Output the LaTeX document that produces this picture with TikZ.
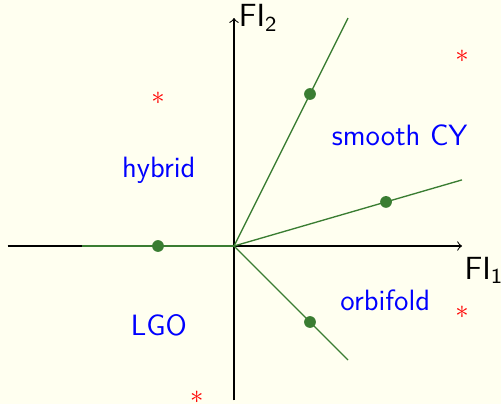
\documentclass[tikz,border=0pt]{standalone}
\usepackage{fontspec}
\renewcommand{\familydefault}{\sfdefault}
\definecolor{fiBack}{HTML}{FFFFF0}
\definecolor{fiRay}{HTML}{3A7D32}
\definecolor{fiPhase}{HTML}{0000FF}
\definecolor{fiStar}{HTML}{FF0000}

\begin{document}
\begin{tikzpicture}[x=1cm,y=1cm,
                    ray/.style={fiRay,line width=0.5pt},
                    pt/.style={circle,fill=fiRay,inner sep=0pt,minimum size=4.4pt},
                    phase/.style={text=fiPhase,font=\fontsize{11}{13}\selectfont},
                    star/.style={text=fiStar,inner sep=0pt}]
  \fill[fiBack] (-3.079,-2.079) rectangle (3.513,3.237);
  \useasboundingbox (-3.079,-2.079) rectangle (3.513,3.237);
  \coordinate (o) at (0,0);
  \coordinate (xl) at (-2.98,0);
  \coordinate (xr) at (3,0);
  \coordinate (yb) at (0,-2.03);
  \coordinate (yt) at (0,3);
  \draw[->] (xl) -- (xr);
  \draw[->] (yb) -- (yt);
  \node[font=\fontsize{12}{14}\selectfont] (fi1) at (3.29,-0.32) {FI\textsubscript{1}};
  \node[font=\fontsize{12}{14}\selectfont] (fi2) at (0.32,3.0) {FI\textsubscript{2}};
  % rays of the secondary fan
  \coordinate (r1) at (1.5,3);
  \coordinate (r2) at (3,0.87);
  \coordinate (r3) at (1.5,-1.5);
  \coordinate (r4) at (-2,0);
  \draw[ray] (o) -- (r1);
  \draw[ray] (o) -- (r2);
  \draw[ray] (o) -- (r3);
  \draw[ray] (o) -- (r4);
  \node[pt] (p1) at (1,2) {};
  \node[pt] (p2) at (2,0.58) {};
  \node[pt] (p3) at (1,-1) {};
  \node[pt] (p4) at (-1,0) {};
  % phases
  \node[phase] (hybrid) at (-0.99,0.99) {hybrid};
  \node[phase] (smooth) at (2.18,1.46) {smooth CY};
  \node[phase] (orbi) at (1.99,-0.72) {orbifold};
  \node[phase] (lgo) at (-0.99,-1.04) {LGO};
  \node[star] (s1) at (-1,1.95) {$*$};
  \node[star] (s2) at (3,2.5) {$*$};
  \node[star] (s3) at (3,-0.87) {$*$};
  \node[star] (s4) at (-0.49,-1.99) {$*$};
\end{tikzpicture}
\end{document}
